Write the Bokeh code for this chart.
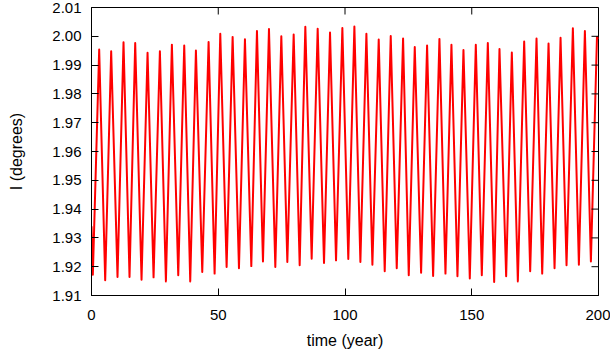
import math
from bokeh.plotting import figure
from bokeh.models import FixedTicker, PrintfTickFormatter, Range1d
from bokeh.embed import file_html
from bokeh.resources import INLINE

# Inclination series (turning points), time in years
time_year = [0.0, 0.53, 3.03, 5.40, 7.76, 10.26, 12.63, 15.0, 17.24, 19.74, 22.11,
             24.48, 26.98, 29.35, 31.71, 34.22, 36.58, 38.95, 41.19, 43.69, 46.19,
             48.56, 50.80, 53.30, 55.67, 58.17, 60.53, 63.04, 65.27, 67.64, 70.01,
             72.51, 74.88, 77.25, 79.75, 82.12, 84.35, 86.85, 89.22, 91.72, 94.09,
             96.46, 98.96, 101.3, 103.70, 106.07, 108.44, 110.81, 113.30, 115.67, 118.04,
             120.41, 122.91, 125.15, 127.52, 130.02, 132.38, 134.76, 137.25, 139.63, 141.99,
             144.36, 146.73, 149.23, 151.60, 153.97, 156.34, 158.84, 160.94, 163.57, 165.81,
             168.18, 170.68, 173.05, 175.55, 177.79, 180.29, 182.66, 185.03, 187.39, 189.89,
             192.26, 194.63, 197.0, 199.4, 200.0]
incl_deg = [1.9340, 1.9172, 1.9954, 1.9153, 1.9948, 1.9164, 1.9979, 1.9164, 1.9977, 1.9155, 1.9943,
            1.9163, 1.9948, 1.9149, 1.9971, 1.9170, 1.9968, 1.9149, 1.9951, 1.9182, 1.9980,
            1.9176, 2.0009, 1.9199, 1.9998, 1.9195, 1.9990, 1.9202, 2.0018, 1.9218, 2.0025,
            1.9199, 2.0000, 1.9216, 2.0006, 1.9205, 2.0033, 1.9228, 2.0026, 1.9213, 2.0013,
            1.9222, 2.0029, 1.9227, 2.0034, 1.9216, 2.0009, 1.9207, 1.9989, 1.9184, 2.0001,
            1.9195, 1.9992, 1.9170, 1.9963, 1.9179, 1.9968, 1.9168, 1.9991, 1.9176, 1.9971,
            1.9167, 1.9952, 1.9159, 1.9971, 1.9170, 1.9977, 1.9147, 1.9956, 1.9167, 1.9944,
            1.9149, 1.9982, 1.9184, 1.9992, 1.9176, 1.9975, 1.9195, 1.9995, 1.9205, 2.0028,
            1.9207, 2.0018, 1.9218, 1.9998, 1.9990]

x_ticks = [0, 50, 100, 150, 200]
y_ticks = [1.91, 1.92, 1.93, 1.94, 1.95, 1.96, 1.97, 1.98, 1.99, 2.00, 2.01]
x_lim = (0, 200)
y_lim = (1.91, 2.01)

FONT = "Liberation Sans"

p = figure(width=610, height=351, output_backend="svg", toolbar_location=None,
           x_range=Range1d(*x_lim), y_range=Range1d(*y_lim),
           min_border_left=91, min_border_right=12, min_border_top=7, min_border_bottom=55)
p.background_fill_color = "white"
p.border_fill_color = "white"
p.outline_line_color = "black"
p.outline_line_width = 1
p.xgrid.visible = False
p.ygrid.visible = False

p.line(time_year, incl_deg, line_color="#ff0000", line_width=2, line_join="round")

# mirrored inward ticks on the top and right edges
p.ray(x=x_ticks, y=[y_lim[1]] * len(x_ticks), length=7, length_units="screen",
      angle=-math.pi / 2, line_color="black", line_width=1)
p.ray(x=[x_lim[1]] * len(y_ticks), y=y_ticks, length=7, length_units="screen",
      angle=math.pi, line_color="black", line_width=1)

def style(ax):
    ax.axis_line_color = "black"
    ax.axis_line_width = 1
    ax.major_tick_in = 7
    ax.major_tick_out = 0
    ax.minor_tick_in = 0
    ax.minor_tick_out = 0
    ax.major_tick_line_color = "black"
    ax.major_label_text_font = FONT
    ax.major_label_text_color = "black"
    ax.major_label_text_font_size = "15px"
    ax.axis_label_text_font = FONT
    ax.axis_label_text_font_style = "normal"
    ax.axis_label_text_color = "black"
    ax.axis_label_text_font_size = "16px"

xa = p.xaxis[0]
xa.ticker = FixedTicker(ticks=x_ticks)
xa.axis_label = "time (year)"
style(xa)
xa.major_label_standoff = 14
xa.axis_label_standoff = 9

ya = p.yaxis[0]
ya.ticker = FixedTicker(ticks=y_ticks)
ya.formatter = PrintfTickFormatter(format="%.2f")
ya.axis_label = "I (degrees)"
style(ya)
ya.major_label_standoff = 10
ya.axis_label_standoff = 24

open("out.html", "w").write(file_html(p, INLINE))
